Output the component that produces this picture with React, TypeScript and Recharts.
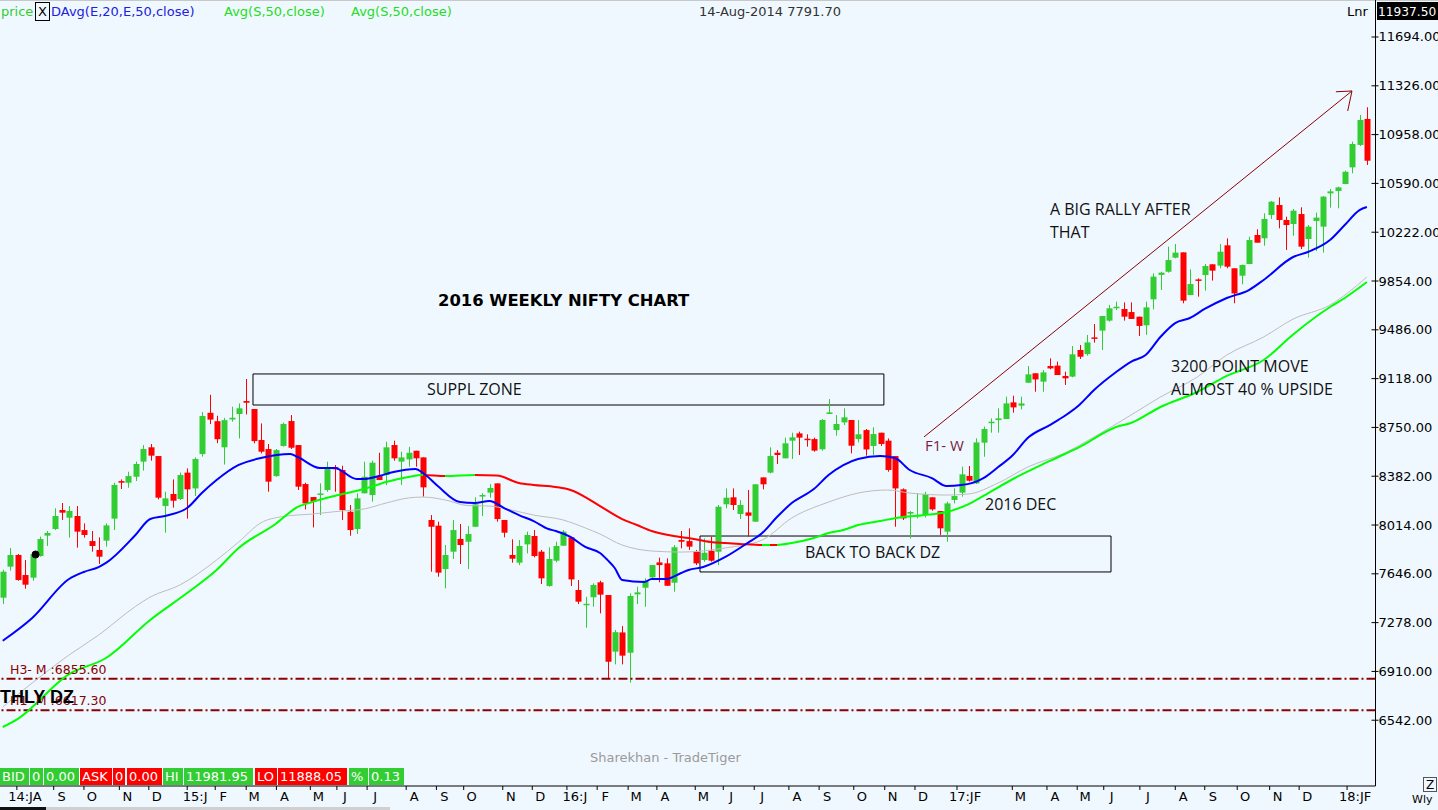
import React from 'react';
import { ComposedChart, Bar, Line, XAxis, YAxis, ReferenceLine, ReferenceArea, ReferenceDot } from 'recharts';

// ---------- weekly NIFTY candles ----------
const opens = [
  7466, 7700, 7788, 7637, 7617, 7780, 7934, 7984, 8127, 8069,
  8082, 7976, 7893, 7826, 7896, 8062, 8345, 8333, 8378, 8492,
  8600, 8534, 8157, 8248, 8210, 8409, 8290, 8549, 8860, 8797,
  8600, 8810, 8851, 8949, 8889, 8655, 8587, 8383, 8610, 8798,
  8617, 8323, 8225, 8242, 8278, 8450, 8429, 8114, 7984, 8253,
  8240, 8383, 8391, 8617, 8492, 8509, 8574, 8524, 8052, 8009,
  7682, 7813, 7909, 7888, 8001, 8233, 8258, 8328, 8052, 7788,
  7730, 7868, 7931, 7813, 7554, 7745, 7858, 7921, 7524, 7418,
  7469, 7582, 7486, 7059, 7204, 7051, 7491, 7541, 7619, 7732,
  7725, 7579, 7901, 7893, 7813, 7750, 7820, 7813, 8170, 8223,
  8097, 8109, 8039, 8373, 8409, 8559, 8517, 8650, 8705, 8665,
  8662, 8585, 8851, 8730, 8788, 8806, 8662, 8730, 8610, 8710,
  8650, 8534, 8283, 8100, 8080, 8090, 8223, 8119, 7964, 8203,
  8258, 8384, 8328, 8635, 8785, 8805, 8813, 8939, 8914, 9087,
  9158, 9095, 9213, 9216, 9138, 9133, 9334, 9303, 9429, 9480,
  9555, 9655, 9643, 9620, 9585, 9520, 9716, 9900, 9924, 10030,
  10070, 9748, 9866, 9899, 9980, 9970, 10123, 9950, 9894, 9982,
  10201, 10176, 10352, 10427, 10314, 10284, 10359, 10171, 10307, 10264,
  10515, 10533, 10585, 10711, 10880, 11076,
];
const highs = [
  7677, 7841, 7795, 7750, 7800, 7926, 7969, 8140, 8180, 8157,
  8157, 8026, 7969, 7921, 8026, 8333, 8358, 8416, 8492, 8617,
  8625, 8534, 8265, 8358, 8409, 8441, 8524, 8866, 8996, 8838,
  8822, 8906, 8931, 9115, 8889, 8780, 8625, 8587, 8786, 8843,
  8617, 8333, 8225, 8328, 8491, 8466, 8461, 8165, 8253, 8491,
  8499, 8559, 8642, 8650, 8567, 8604, 8574, 8524, 8089, 8039,
  7863, 8052, 8022, 8006, 8223, 8253, 8323, 8328, 8052, 7906,
  7901, 7964, 7976, 7826, 7846, 7888, 7976, 7921, 7599, 7473,
  7574, 7594, 7486, 7222, 7252, 7499, 7549, 7612, 7712, 7768,
  7763, 7863, 7969, 7989, 7826, 7913, 7926, 8165, 8290, 8290,
  8202, 8278, 8321, 8373, 8600, 8579, 8672, 8710, 8718, 8698,
  8673, 8813, 8964, 8843, 8894, 8806, 8806, 8738, 8751, 8710,
  8667, 8534, 8290, 8119, 8253, 8265, 8223, 8119, 8190, 8291,
  8454, 8459, 8668, 8756, 8818, 8894, 8982, 8989, 8982, 9213,
  9158, 9183, 9271, 9246, 9170, 9364, 9371, 9447, 9530, 9590,
  9673, 9698, 9693, 9693, 9585, 9698, 9912, 9924, 10113, 10133,
  10070, 9942, 9874, 9982, 9980, 10133, 10176, 9950, 9978, 10188,
  10244, 10364, 10457, 10485, 10339, 10397, 10410, 10276, 10369, 10495,
  10548, 10565, 10686, 10905, 11106, 11164,
];
const lows = [
  7418, 7670, 7594, 7534, 7594, 7775, 7856, 7976, 8052, 7919,
  7843, 7919, 7813, 7720, 7851, 7976, 8285, 8295, 8346, 8424,
  8499, 8207, 7956, 8145, 8202, 8062, 8233, 8530, 8775, 8631,
  8470, 8793, 8667, 8848, 8630, 8554, 8265, 8378, 8605, 8587,
  8278, 8132, 7996, 8089, 8265, 8265, 8052, 7933, 7946, 8253,
  8190, 8353, 8315, 8499, 8316, 8454, 8454, 8228, 7662, 7624,
  7536, 7758, 7720, 7682, 8001, 8082, 8220, 8039, 7921, 7730,
  7712, 7800, 7770, 7569, 7549, 7733, 7858, 7554, 7418, 7240,
  7398, 7348, 6858, 6963, 6963, 6825, 7418, 7398, 7607, 7582,
  7554, 7511, 7838, 7826, 7712, 7737, 7737, 7712, 8140, 8127,
  8059, 7926, 8039, 8283, 8404, 8474, 8517, 8512, 8542, 8605,
  8567, 8575, 8851, 8688, 8768, 8554, 8637, 8537, 8542, 8610,
  8416, 8001, 8052, 7913, 8064, 8070, 8122, 7939, 7888, 8177,
  8228, 8341, 8323, 8529, 8710, 8710, 8813, 8861, 8886, 9087,
  9019, 9019, 9188, 9145, 9070, 9128, 9266, 9291, 9389, 9334,
  9547, 9635, 9555, 9568, 9439, 9448, 9640, 9786, 9917, 10025,
  9686, 9748, 9736, 9781, 9857, 9950, 9950, 9686, 9829, 9982,
  10143, 10120, 10322, 10251, 10088, 10196, 10095, 10030, 10080, 10068,
  10407, 10402, 10585, 10666, 10872, 10729,
];
const closes = [
  7662, 7788, 7599, 7564, 7792, 7908, 7954, 8082, 8107, 8120,
  7964, 7939, 7856, 7775, 8011, 8316, 8333, 8383, 8474, 8587,
  8537, 8220, 8215, 8197, 8391, 8283, 8512, 8836, 8809, 8661,
  8805, 8823, 8894, 8936, 8647, 8567, 8341, 8579, 8776, 8597,
  8303, 8177, 8190, 8252, 8449, 8434, 8127, 7976, 8215, 8378,
  8484, 8353, 8600, 8517, 8524, 8559, 8517, 8298, 8001, 7655,
  7788, 7976, 7863, 7946, 8170, 8240, 8293, 8059, 7956, 7760,
  7856, 7939, 7780, 7612, 7758, 7856, 7964, 7604, 7436, 7420,
  7562, 7489, 6983, 7206, 7029, 7479, 7506, 7594, 7712, 7712,
  7556, 7846, 7888, 7851, 7725, 7805, 7745, 8152, 8220, 8165,
  8165, 8084, 8321, 8321, 8534, 8542, 8630, 8675, 8673, 8660,
  8575, 8806, 8863, 8776, 8826, 8612, 8698, 8584, 8700, 8625,
  8429, 8290, 8064, 8112, 8090, 8248, 8132, 7989, 8177, 8233,
  8396, 8348, 8637, 8738, 8793, 8818, 8931, 8901, 8931, 9150,
  9112, 9165, 9195, 9145, 9120, 9301, 9283, 9391, 9424, 9590,
  9648, 9660, 9585, 9568, 9515, 9655, 9887, 9917, 10012, 10068,
  9706, 9831, 9857, 9967, 9932, 10075, 9962, 9760, 9975, 10163,
  10143, 10322, 10452, 10314, 10276, 10384, 10113, 10264, 10332, 10490,
  10530, 10560, 10678, 10887, 11068, 10761,
];

// ---------- moving averages, read at sample weeks [weekIndex, value] ----------
const ema20Samples: [number, number][] = [
  [0, 7141], [4, 7313], [9, 7607], [11, 7660], [13, 7697], [14, 7728], [18, 7939], [20, 8059],
  [22, 8082], [25, 8142], [27, 8255], [29, 8353], [32, 8467], [35, 8519], [39, 8549], [40, 8527],
  [43, 8444], [45, 8444], [48, 8361], [49, 8361], [51, 8383], [53, 8414], [56, 8436], [57, 8406],
  [59, 8308], [62, 8187], [64, 8180], [66, 8195], [68, 8142], [70, 8089], [72, 8044], [74, 7984],
  [75, 7969], [77, 7924], [79, 7849], [81, 7803], [82, 7751], [83, 7690], [84, 7600], [87, 7584],
  [88, 7607], [90, 7607], [92, 7652], [93, 7675], [95, 7697], [98, 7773], [101, 7878], [103, 7954],
  [105, 8074], [107, 8180], [110, 8285], [112, 8391], [114, 8466], [116, 8512], [119, 8534], [121, 8519],
  [123, 8429], [126, 8368], [128, 8308], [130, 8315], [133, 8368], [135, 8451], [137, 8542], [139, 8670],
  [142, 8768], [144, 8836], [146, 8919], [148, 9032], [151, 9168], [153, 9245], [155, 9296], [157, 9432],
  [159, 9537], [161, 9575], [163, 9643], [166, 9726], [169, 9786], [171, 9862], [175, 10035], [177, 10073],
  [180, 10163], [182, 10276], [184, 10389], [185, 10412],
];
const sma50Samples: [number, number][] = [
  [0, 6491], [2, 6551], [9, 6890], [14, 7011], [20, 7298], [25, 7501], [29, 7675], [32, 7841],
  [37, 8022], [40, 8150], [42, 8188], [45, 8233], [49, 8285], [52, 8338], [55, 8376], [57, 8391],
  [60, 8383], [64, 8391], [67, 8387], [70, 8331], [72, 8316], [75, 8301], [77, 8278], [79, 8225],
  [81, 8157], [84, 8059], [86, 8014], [88, 7969], [91, 7931], [93, 7916], [96, 7886], [98, 7878],
  [100, 7871], [103, 7863], [105, 7863], [107, 7878], [110, 7916], [112, 7954], [114, 7976], [116, 8014],
  [119, 8044], [122, 8074], [125, 8089], [128, 8112], [131, 8172], [133, 8233], [137, 8361], [142, 8497],
  [146, 8602], [151, 8753], [153, 8783], [157, 8904], [162, 9017], [166, 9138], [171, 9258], [175, 9451],
  [180, 9658], [182, 9726], [185, 9846],
];
const ema50Samples: [number, number][] = [
  [0, 6642], [4, 6823], [9, 7034], [13, 7184], [18, 7400], [20, 7471], [24, 7561], [29, 7750],
  [32, 7886], [35, 8030], [38, 8078], [42, 8097], [46, 8120], [49, 8135], [52, 8180], [55, 8218],
  [57, 8225], [60, 8203], [63, 8161], [66, 8157], [69, 8127], [72, 8089], [76, 8052], [79, 7992],
  [81, 7946], [84, 7863], [86, 7833], [88, 7818], [92, 7810], [98, 7841], [103, 7901], [107, 8067],
  [112, 8187], [116, 8255], [120, 8278], [123, 8255], [128, 8240], [131, 8248], [135, 8331], [139, 8451],
  [144, 8557], [148, 8678], [153, 8843], [157, 8979], [162, 9130], [166, 9296], [171, 9432], [175, 9567],
  [180, 9673], [185, 9884],
];
// week ranges in which the 50 SMA is falling (drawn red)
const smaFallingRanges: [number, number][] = [[57, 60], [64, 103], [104, 105]];

// ---------- axes ----------
const priceTicks = [6542, 6910, 7278, 7646, 8014, 8382, 8750, 9118, 9486, 9854, 10222, 10590, 10958, 11326, 11694];
const monthTicks: [number, string][] = [
  [3.0, '14:JA'], [8.0, 'S'], [12.1, 'O'], [16.9, 'N'], [20.9, 'D'], [26.1, '15:J'], [29.9, 'F'],
  [34.1, 'M'], [38.2, 'A'], [42.8, 'M'], [46.4, 'J'], [50.5, 'J'], [55.8, 'A'], [59.9, 'S'],
  [63.6, 'O'], [68.9, 'N'], [72.9, 'D'], [77.6, '16:J'], [81.7, 'F'], [85.9, 'M'], [89.8, 'A'],
  [95.0, 'M'], [98.8, 'J'], [103.0, 'J'], [107.7, 'A'], [111.8, 'S'], [116.5, 'O'], [120.7, 'N'],
  [124.8, 'D'], [130.5, '17:JF'], [138.0, 'M'], [142.7, 'A'], [146.8, 'M'], [150.4, 'J'], [155.3, 'J'],
  [160.1, 'A'], [164.1, 'S'], [168.5, 'O'], [172.9, 'N'], [176.9, 'D'], [183.4, '18:JF'],
];

// ---------- annotations (data coordinates) ----------
const monthlyDzLines = [6855.6, 6617.3];
const supplZone = { x1: 33.94, x2: 119.5, y1: 8919, y2: 9153 };
const demandZone = { x1: 94.56, x2: 150.3, y1: 7660, y2: 7931 };
const rallyArrow = { from: { x: 124.94, y: 8678 }, to: { x: 182.98, y: 11287 } };
const arrowHead = [{ x: 180.8, y: 11281 }, { x: 182.4, y: 11136 }];
const cursorPoint = { x: 4.45, y: 7791.7 };

const UI_FONT = '"DejaVu Sans", Verdana, sans-serif';
const NOTE_FONT = '"Open Sans", sans-serif';
const BG = '#F0F8FF';
const UP = '#32CD32';
const DOWN = '#FF0000';
const DZ_RED = '#8B0000';

const lastIndex = opens.length - 1;
const toMap = (s: [number, number][]) => new Map(s.map(([i, v]) => [i, v]));
const e20 = toMap(ema20Samples);
const s50 = toMap(sma50Samples);
const e50 = toMap(ema50Samples);
const table = opens.map((o, i) => ({
  i, o, h: highs[i], l: lows[i], c: closes[i],
  ema20: e20.has(i) ? e20.get(i) : null,
  sma50: s50.has(i) ? s50.get(i) : null,
  ema50: e50.has(i) ? e50.get(i) : null,
}));
const monthLabel = new Map(monthTicks.map(([i, s]) => [i, s]));

const smaStops = (() => {
  const first = sma50Samples[0][0];
  const last = sma50Samples[sma50Samples.length - 1][0];
  const f = (i: number) => (i - first) / (last - first);
  const stops: { o: number; c: string }[] = [{ o: 0, c: '#00FF00' }];
  smaFallingRanges.forEach(([a, b]) => {
    stops.push({ o: f(a), c: '#00FF00' }, { o: f(a), c: DOWN }, { o: f(b), c: DOWN }, { o: f(b), c: '#00FF00' });
  });
  stops.push({ o: 1, c: '#00FF00' });
  return stops;
})();

const Candle = (props: any) => {
  const { x, y, width, height, payload } = props;
  if (x == null || y == null || !payload) return null;
  const { o, h, l, c } = payload;
  const color = c >= o ? UP : DOWN;
  const top = Math.min(y, y + height);
  const hh = Math.abs(height);
  const yOf = (v: number) => (h > l ? top + ((h - v) / (h - l)) * hh : top);
  const cx = Math.round(x + width / 2) + 0.5;
  const bTop = yOf(Math.max(o, c));
  const bBot = yOf(Math.min(o, c));
  return (
    <g>
      <line x1={cx} x2={cx} y1={top} y2={top + hh} stroke={color} strokeWidth={1} />
      <rect x={cx - 3} y={bTop} width={6} height={Math.max(1.5, bBot - bTop)} fill={color} />
    </g>
  );
};

const MonthTick = (props: any) => {
  const { x, y, payload } = props;
  return (
    <g>
      <line x1={x - 8} x2={x - 8} y1={y} y2={y + 4} stroke="#000" />
      <text x={x} y={y + 15} textAnchor="middle" fontFamily={UI_FONT} fontSize={13} fill="#000">
        {monthLabel.get(payload.value)}
      </text>
    </g>
  );
};

const PriceTick = (props: any) => {
  const { x, y, payload } = props;
  return (
    <g>
      <line x1={x - 4} x2={x + 3} y1={y} y2={y} stroke="#000" />
      <text x={x + 3} y={y + 4.5} fontFamily={UI_FONT} fontSize={13} fill="#000">
        {Number(payload.value).toFixed(2)}
      </text>
    </g>
  );
};

const boxStyle = (left: number, width: number, bg: string): React.CSSProperties => ({
  position: 'absolute', left, top: 768, width, height: 17, background: bg, color: '#fff',
  fontFamily: UI_FONT, fontSize: 13, lineHeight: '17px', paddingLeft: 2, boxSizing: 'border-box', whiteSpace: 'nowrap',
});

const statusBoxes: [number, number, string, string][] = [
  [0, 29, 'BID', UP], [30, 13, '0', UP], [44, 35, '0.00', UP],
  [80, 32, 'ASK', DOWN], [113, 12, '0', DOWN], [127, 35, '0.00', DOWN],
  [163, 20, 'HI', UP], [184, 69, '11981.95', UP],
  [255, 22, 'LO', DOWN], [278, 69, '11888.05', DOWN],
  [349, 19, '%', UP], [369, 35, '0.13', UP],
];

const note = (x: number, y: number, s: string, extra: any = {}) => (
  <text x={x} y={y} fontFamily={NOTE_FONT} fontSize={16} fill="#111" dominantBaseline="central" {...extra}>{s}</text>
);

export default function App() {
  return (
    <div style={{ position: 'absolute', left: 0, top: 0, width: 1438, height: 810, background: BG, overflow: 'hidden' }}>
      <svg width={0} height={0} style={{ position: 'absolute' }}>
        <defs>
          <linearGradient id="smaGrad" x1="0" y1="0" x2="1" y2="0">
            {smaStops.map((s, k) => (
              <stop key={k} offset={s.o} stopColor={s.c} />
            ))}
          </linearGradient>
        </defs>
      </svg>
      <div style={{ position: 'absolute', left: 0, top: 0 }}>
        <ComposedChart width={1438} height={810} data={table} margin={{ top: 24, right: 0, bottom: 0, left: 0 }}>
          <XAxis
            dataKey="i" type="number" domain={[-0.37, lastIndex + 1.17]} allowDataOverflow
            ticks={monthTicks.map((t) => t[0])} interval={0} height={24}
            tickLine={false} tickSize={0} tickMargin={0} axisLine={{ stroke: '#000' }} tick={<MonthTick />}
          />
          <YAxis
            orientation="right" type="number" domain={[6046, 11792]} allowDataOverflow
            ticks={priceTicks} interval={0} width={62.5}
            tickLine={false} tickSize={0} tickMargin={0} axisLine={{ stroke: '#000' }} tick={<PriceTick />}
          />
          {monthlyDzLines.map((v) => (
            <ReferenceLine key={v} y={v} stroke={DZ_RED} strokeWidth={2} strokeDasharray="9 3 2 3" />
          ))}
          <Bar dataKey={(d: any) => [d.l, d.h]} barSize={6} isAnimationActive={false} shape={(p: any) => <Candle {...p} />} />
          <Line dataKey="ema50" type="monotone" stroke="#BDBDBD" strokeWidth={1} dot={false} connectNulls isAnimationActive={false} />
          <Line dataKey="sma50" type="monotone" stroke="url(#smaGrad)" strokeWidth={2} dot={false} connectNulls isAnimationActive={false} />
          <Line dataKey="ema20" type="monotone" stroke="#0000FF" strokeWidth={2} dot={false} connectNulls isAnimationActive={false} />
          <ReferenceArea {...supplZone} fill="none" fillOpacity={0} stroke="#000" strokeWidth={1} ifOverflow="visible" />
          <ReferenceArea {...demandZone} fill="none" fillOpacity={0} stroke="#000" strokeWidth={1} ifOverflow="visible" />
          <ReferenceLine segment={[rallyArrow.from, rallyArrow.to]} stroke={DZ_RED} strokeWidth={1} ifOverflow="visible" />
          {arrowHead.map((p, k) => (
            <ReferenceLine key={k} segment={[rallyArrow.to, p]} stroke={DZ_RED} strokeWidth={1} ifOverflow="visible" />
          ))}
          <ReferenceDot x={cursorPoint.x} y={cursorPoint.y} r={3.5} fill="#000" stroke="#000" ifOverflow="visible" />
        </ComposedChart>
      </div>

      <svg width={1438} height={810} style={{ position: 'absolute', left: 0, top: 0, pointerEvents: 'none' }}>
        <line x1={0} x2={1438} y1={0.5} y2={0.5} stroke="#C8C8C8" />
        <line x1={1375.5} x2={1375.5} y1={0} y2={24} stroke="#000" />
        <text x={1} y={16} fontFamily={UI_FONT} fontSize={13} fill="#33CC33">price</text>
        <rect x={35.5} y={2.5} width={14} height={18} fill="none" stroke="#000" />
        <text x={38} y={16} fontFamily={UI_FONT} fontSize={13} fill="#000">X</text>
        <text x={51} y={16} fontFamily={UI_FONT} fontSize={13} fill="#2020E0">DAvg(E,20,E,50,close)</text>
        <text x={224} y={16} fontFamily={UI_FONT} fontSize={13} fill="#22DD22">Avg(S,50,close)</text>
        <text x={351} y={16} fontFamily={UI_FONT} fontSize={13} fill="#22DD22">Avg(S,50,close)</text>
        <text x={699} y={16} fontFamily={UI_FONT} fontSize={13} fill="#333">14-Aug-2014 7791.70</text>
        <text x={1347} y={16} fontFamily={UI_FONT} fontSize={13} fill="#000">Lnr</text>
        <rect x={1377} y={2} width={61} height={18} fill="#000" />
        <text x={1378} y={15.5} fontFamily={UI_FONT} fontSize={12.2} fill="#fff">11937.50</text>

        <text x={438} y={300} fontFamily={UI_FONT} fontWeight="bold" fontSize={16.4} fill="#000" dominantBaseline="central">2016 WEEKLY NIFTY CHART</text>
        {note(427, 389, 'SUPPL ZONE')}
        {note(805, 552, 'BACK TO BACK DZ')}
        {note(925, 445, 'F1- W', { fontSize: 15, fill: '#7A1F3D' })}
        {note(985, 504, '2016 DEC')}
        {note(1050, 209, 'A BIG RALLY AFTER')}
        {note(1050, 232, 'THAT')}
        {note(1171, 366, '3200 POINT MOVE')}
        {note(1171, 389, 'ALMOST 40 % UPSIDE')}

        <text x={10} y={669} fontFamily={UI_FONT} fontSize={12.5} fill={DZ_RED} dominantBaseline="central">H3- M :6855.60</text>
        <text x={10} y={700} fontFamily={UI_FONT} fontSize={12.5} fill={DZ_RED} dominantBaseline="central">H1- M :6617.30</text>
        <text x={0} y={697} fontFamily='"Liberation Sans", Arial, sans-serif' fontWeight="bold" fontSize={18} fill="#000" dominantBaseline="central">THLY DZ</text>

        <text x={590} y={757} fontFamily={UI_FONT} fontSize={13} fill="#9A9A9A" dominantBaseline="central">Sharekhan - TradeTiger</text>

        <rect x={1423.5} y={777.5} width={13} height={14} fill={BG} stroke="#555" />
        <text x={1426} y={789} fontFamily={UI_FONT} fontSize={12} fill="#000">Z</text>
        <text x={1412} y={803} fontFamily={UI_FONT} fontSize={11} fill="#000">Wly</text>
        <rect x={0} y={807} width={46} height={3} fill="#111" />
        <rect x={46} y={807} width={344} height={3} fill="#D0D0D0" />
      </svg>

      {statusBoxes.map(([left, w, s, bg], k) => (
        <div key={k} style={boxStyle(left, w, bg)}>{s}</div>
      ))}
    </div>
  );
}
